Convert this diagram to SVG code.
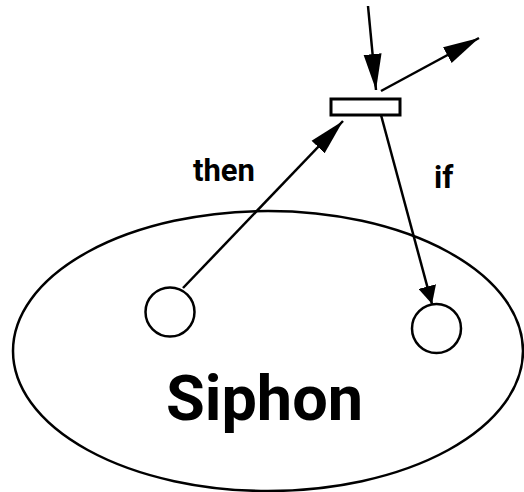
<svg xmlns="http://www.w3.org/2000/svg" width="524" height="492" viewBox="0 0 524 492">
<style>
.ln{fill:none;stroke:#000;stroke-width:2.5}
.nd{fill:#fff;stroke:#000;stroke-width:2.5}
.lbl{font-family:Roboto,"Liberation Sans",sans-serif;font-weight:bold;fill:#000}
</style>
<defs>
<marker id="ah" markerUnits="userSpaceOnUse" markerWidth="37" markerHeight="20" refX="36" refY="10" orient="auto" viewBox="0 0 37 20">
<path d="M0,1 L36,10 L0,19 z" fill="#000"/>
</marker>
<marker id="ahs" markerUnits="userSpaceOnUse" markerWidth="19" markerHeight="18" refX="18" refY="9" orient="auto" viewBox="0 0 19 18">
<path d="M0,0 L18,9 L0,18 z" fill="#000"/>
</marker>
</defs>
<rect width="524" height="492" fill="#fff"/>
<g id="siphon">
<ellipse cx="268" cy="351" rx="255" ry="140" class="ln"/>
<text x="264.5" y="420" class="lbl" font-size="63" text-anchor="middle">Siphon</text>
</g>
<g id="transition">
<rect x="331" y="99" width="69" height="16" fill="#fff" stroke="#000" stroke-width="3"/>
</g>
<g id="place-left">
<circle cx="170" cy="312" r="24.5" class="nd"/>
</g>
<g id="place-right">
<circle cx="436.5" cy="328.5" r="24.5" class="nd"/>
</g>
<g id="connectors">
<line x1="368" y1="6" x2="376" y2="90" class="ln" marker-end="url(#ah)"/>
<line x1="381" y1="91" x2="479" y2="38" class="ln" marker-end="url(#ah)"/>
<line x1="183" y1="288" x2="343" y2="121" class="ln" marker-end="url(#ah)"/>
<line x1="381" y1="115" x2="432" y2="304" class="ln" marker-end="url(#ahs)"/>
</g>
<g id="labels">
<text x="193" y="181" class="lbl" font-size="31">then</text>
<text x="434" y="188" class="lbl" font-size="31">if</text>
</g>
</svg>
